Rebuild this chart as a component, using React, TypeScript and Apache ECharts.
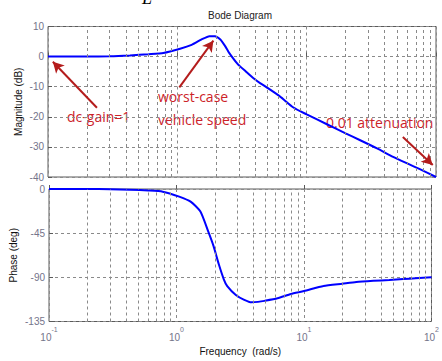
import React, { useEffect, useRef } from "react";
import * as echarts from "echarts";

// Frequency samples (rad/s)
const frequency = [0.1, 0.2, 0.3, 0.43, 0.6, 0.78, 1.05, 1.29, 1.54, 1.77, 1.95, 2.15, 2.35, 2.5, 2.92, 3.4, 3.88, 4.36, 4.9, 6.2, 7.9, 10, 14.2, 20, 25.7, 35, 46.6, 60, 75, 100];
// Magnitude (dB)
const magnitudeDb = [0, 0, 0.1, 0.4, 0.8, 1.2, 2.6, 3.9, 5.7, 6.8, 6.8, 5.7, 3.4, 1.4, -2.4, -5.0, -7.2, -8.8, -10.2, -13.2, -16.9, -19.2, -22.4, -25.5, -27.7, -30.5, -33.3, -35.5, -37.4, -40];
// Phase (deg)
const phaseDeg = [0, 0, -0.3, -0.7, -1.5, -2.7, -7.8, -12.9, -23, -43, -58, -77, -92, -99, -108, -113, -115.5, -115, -114, -111.4, -107, -104, -98.8, -96.5, -94.8, -93.6, -92.7, -91.8, -91, -90];

// Minor log grid positions
const minorFrequencies = [0.2, 0.3, 0.4, 0.5, 0.6, 0.7, 0.8, 0.9, 2, 3, 4, 5, 6, 7, 8, 9, 20, 30, 40, 50, 60, 70, 80, 90];

// Annotation arrows (data coordinates: [frequency, dB])
const arrowFrom = [[0.239, -17], [1.036, -10.2], [55.4, -26.7]];
const arrowTo = [[0.109, -1.7], [1.9, 5.3], [94.4, -36]];
const annotationTexts = ["dc-gain=1", "worst-case", "vehicle speed", "0.01 attenuation"];

const FONT = "'Liberation Sans', Arial, sans-serif";
const TICK_COLOR = "#74748a";
const FRAME = "#5a5a5a";
const GRIDC = "#8a8a8a";
const RED = "#cc2229";

export default function App() {
  const ref = useRef<HTMLDivElement>(null);
  useEffect(() => {
    if (!ref.current) return;
    const chart = echarts.init(ref.current, null, { renderer: "svg" });
    const mag = frequency.map((f, i) => [f, magnitudeDb[i]]);
    const ph = frequency.map((f, i) => [f, phaseDeg[i]]);
    const dashed = { type: [3, 3] as any, color: GRIDC, width: 1 };
    const xBase = (gi: number, showLabel: boolean) => ({
      type: "log" as const,
      logBase: 10,
      min: 0.1,
      max: 100,
      splitNumber: 3,
      gridIndex: gi,
      axisLine: { show: false },
      axisTick: { show: true, inside: true, length: 4, lineStyle: { color: FRAME } },
      splitLine: { show: true, lineStyle: dashed },
      axisLabel: showLabel
        ? {
            show: true,
            margin: 4,
            formatter: (v: number) => `{b|10}{s|${Math.round(Math.log10(v))}}`,
            rich: {
              b: { fontSize: 10, lineHeight: 17, verticalAlign: "bottom", color: TICK_COLOR, fontFamily: FONT },
              s: { fontSize: 7, lineHeight: 8, verticalAlign: "top", color: TICK_COLOR, fontFamily: FONT },
            },
          }
        : { show: false },
      name: showLabel ? "Frequency  (rad/s)" : "",
      nameLocation: "middle" as const,
      nameGap: 25,
      nameMoveOverlap: false,
      nameTextStyle: { fontSize: 10, color: "#111", fontFamily: FONT },
    });
    const yBase = (gi: number, min: number, max: number, interval: number, name: string, gap: number) => ({
      type: "value" as const,
      gridIndex: gi,
      min,
      max,
      interval,
      axisLine: { show: false },
      axisTick: { show: true, inside: true, length: 4, lineStyle: { color: FRAME } },
      splitLine: { show: true, lineStyle: dashed },
      axisLabel: { margin: 4, fontSize: 10, color: TICK_COLOR, fontFamily: FONT },
      name,
      nameLocation: "middle" as const,
      nameRotate: 90,
      nameGap: gap,
      nameMoveOverlap: false,
      nameTextStyle: { fontSize: 10, color: "#111", fontFamily: FONT },
    });
    const minorLines = (xi: number, yi: number) => ({
      type: "line" as const,
      xAxisIndex: xi,
      yAxisIndex: yi,
      data: [],
      silent: true,
      markLine: {
        silent: true,
        symbol: "none",
        label: { show: false },
        lineStyle: dashed,
        data: minorFrequencies.map((f) => ({ xAxis: f })),
      },
    });
    chart.setOption({
      animation: false,
      backgroundColor: "#fff",
      title: {
        text: "Bode Diagram",
        left: 240,
        top: 10,
        padding: 0,
        textAlign: "center",
        textStyle: { fontSize: 10, fontWeight: "normal", color: "#222", fontFamily: FONT },
      },
      grid: [
        { left: 48, top: 26.5, width: 388, height: 150.5, show: true, borderColor: FRAME, borderWidth: 1, backgroundColor: "transparent" },
        { left: 48, top: 189, width: 388, height: 132.5, show: true, borderColor: FRAME, borderWidth: 1, backgroundColor: "transparent" },
      ],
      xAxis: [xBase(0, false), xBase(1, true)],
      yAxis: [
        yBase(0, -40, 10, 10, "Magnitude (dB)", 25),
        yBase(1, -135, 0, 45, "Phase (deg)", 31),
      ],
      graphic: [
        { type: "text", left: 142, top: -11, style: { text: "L", font: "italic 18px 'Liberation Serif', serif", fill: "#000" } },
        { type: "text", left: 67, top: 109, style: { text: annotationTexts[0], font: "14px 'Open Sans', sans-serif", fill: RED } },
        { type: "text", left: 158, top: 89, style: { text: annotationTexts[1], font: "14px 'Open Sans', sans-serif", fill: RED } },
        { type: "text", left: 158, top: 112, style: { text: annotationTexts[2], font: "14px 'Open Sans', sans-serif", fill: RED } },
        { type: "text", left: 326, top: 115, style: { text: annotationTexts[3], font: "14px 'Open Sans', sans-serif", fill: RED } },
      ],
      series: [
        minorLines(0, 0),
        minorLines(1, 1),
        {
          type: "line",
          xAxisIndex: 0,
          yAxisIndex: 0,
          data: [],
          silent: true,
          z: 5,
          markLine: {
            silent: true,
            symbol: ["none", "arrow"],
            symbolSize: [9, 11],
            label: { show: false },
            lineStyle: { color: "#b41c1c", width: 2, type: "solid" },
            data: arrowFrom.map((p, i) => [{ coord: p }, { coord: arrowTo[i] }]),
          },
        },
        {
          type: "line",
          xAxisIndex: 0,
          yAxisIndex: 0,
          data: mag,
          showSymbol: false,
          smooth: 0.2,
          z: 4,
          lineStyle: { color: "#0000ff", width: 2 },
        },
        {
          type: "line",
          xAxisIndex: 1,
          yAxisIndex: 1,
          data: ph,
          showSymbol: false,
          smooth: 0.2,
          z: 4,
          lineStyle: { color: "#0000ff", width: 2 },
        },
      ],
    });
    return () => chart.dispose();
  }, []);
  return <div ref={ref} style={{ position: "fixed", left: 0, top: 0, width: 442, height: 361 }} />;
}
